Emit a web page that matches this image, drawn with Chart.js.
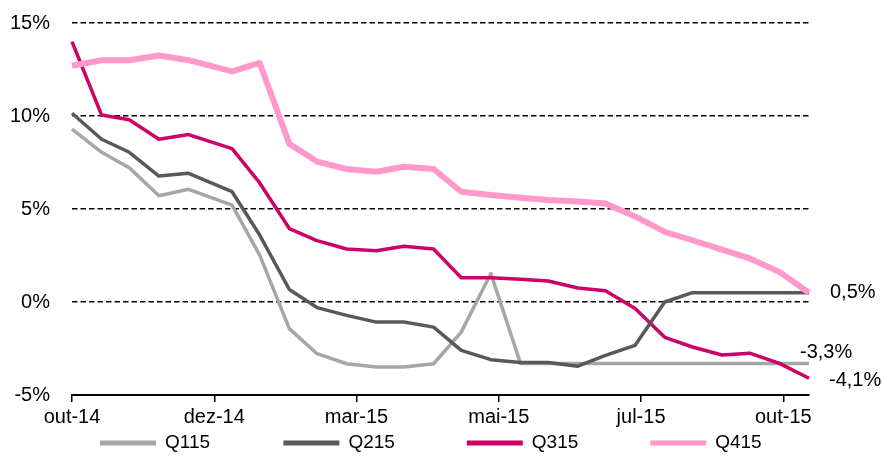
<!DOCTYPE html>
<html><head><meta charset="utf-8">
<script src="https://cdn.jsdelivr.net/npm/chart.js@4.4.0/dist/chart.umd.min.js"></script>
<style>html,body{margin:0;padding:0;background:#fff;}#wrap{width:882px;height:460px;position:relative;}</style>
</head><body><div id="wrap"><canvas id="c" width="882" height="460"></canvas></div>
<script>
// x positions of observations, in days after the first one
const days = [0,15,29,44,59,81,95,110,124,139,154,168,183,197,212,227,241,256,270,285,300,314,329,343,358,373];
const tickDays = [0,72,144,216,288,360];
const tickLabels = ['out-14','dez-14','mar-15','mai-15','jul-15','out-15'];
const seriesNames = ['Q115','Q215','Q315','Q415'];
const q115 = [9.3,8.05,7.22,5.71,6.06,5.21,2.52,-1.43,-2.78,-3.32,-3.5,-3.5,-3.32,-1.62,1.53,-3.3,-3.3,-3.3,-3.3,-3.3,-3.3,-3.3,-3.3,-3.3,-3.3,-3.3];
const q215 = [10.15,8.75,8.05,6.77,6.92,5.93,3.6,0.67,-0.3,-0.72,-1.08,-1.08,-1.35,-2.6,-3.1,-3.25,-3.25,-3.45,-2.87,-2.33,0.0,0.5,0.5,0.5,0.5,0.5];
const q315 = [14.0,10.05,9.8,8.75,9.0,8.25,6.4,3.95,3.3,2.85,2.75,3.0,2.85,1.3,1.3,1.22,1.13,0.75,0.6,-0.35,-1.9,-2.42,-2.85,-2.75,-3.3,-4.1];
const q415 = [12.7,13.0,13.0,13.25,13.0,12.4,12.85,8.5,7.55,7.15,7.0,7.27,7.15,5.93,5.75,5.6,5.48,5.4,5.3,4.6,3.77,3.32,2.82,2.34,1.62,0.5];
const yTicks = [-5,0,5,10,15];

const colors = ['#A6A6A6','#595959','#CC0066','#FF99CC'];
const widths = [3.5,3.5,3.5,6];
const drawOrder = [3,1,2,0];
const values = [q115,q215,q315,q415];

const datasets = values.map((vals,i)=>({
  label: seriesNames[i],
  data: vals.map((v,j)=>({x:days[j], y:v})),
  borderColor: colors[i],
  backgroundColor: colors[i],
  borderWidth: widths[i],
  pointRadius: 0,
  tension: 0,
  borderJoinStyle: 'round',
  clip: false,
  order: drawOrder[i]
}));

const FONT = "'Liberation Sans', Arial, sans-serif";

const endLabels = {
  id: 'endLabels',
  afterDatasetsDraw(chart) {
    const ctx = chart.ctx;
    const cfg = [{i:3, dx:21, dy:0},{i:0, dx:-9, dy:-11},{i:2, dx:20, dy:2}];
    ctx.save();
    ctx.font = "20px " + FONT;
    ctx.fillStyle = '#000';
    ctx.textBaseline = 'middle';
    ctx.textAlign = 'left';
    cfg.forEach(c=>{
      const meta = chart.getDatasetMeta(c.i);
      const pt = meta.data[meta.data.length-1];
      const v = values[c.i][values[c.i].length-1];
      const txt = v.toFixed(1).replace('.', ',') + '%';
      ctx.fillText(txt, pt.x + c.dx, pt.y + c.dy);
    });
    ctx.restore();
  }
};

const customLegend = {
  id: 'customLegend',
  afterDraw(chart) {
    const ctx = chart.ctx;
    ctx.save();
    ctx.font = "19px " + FONT;
    ctx.textBaseline = 'middle';
    ctx.textAlign = 'left';
    const y = 443, x0 = 100, step = 183.4, sw = 56, gap = 9;
    seriesNames.forEach((n,i)=>{
      const x = x0 + i*step;
      ctx.fillStyle = colors[i];
      ctx.fillRect(x, y-2.5, sw, 5);
      ctx.fillStyle = '#000';
      ctx.fillText(n, x + sw + gap, y);
    });
    ctx.restore();
  }
};

new Chart(document.getElementById('c'), {
  type: 'line',
  data: { datasets },
  plugins: [endLabels, customLegend],
  options: {
    responsive: false,
    animation: false,
    devicePixelRatio: 1,
    layout: { padding: { top: 23, right: 73, left: 0, bottom: 0 } },
    plugins: { legend: { display: false }, tooltip: { enabled: false } },
    scales: {
      x: {
        type: 'linear',
        min: 0, max: 373,
        afterBuildTicks: (s)=>{ s.ticks = tickDays.map(v=>({value:v})); },
        afterFit: (s)=>{ s.height = 65; s.paddingLeft = 0; s.paddingRight = 0; },
        ticks: {
          autoSkip: false, maxRotation: 0, padding: 3,
          color: '#000',
          font: { family: FONT, size: 20 },
          callback: (v)=> tickLabels[tickDays.indexOf(v)]
        },
        grid: { drawOnChartArea: false, drawTicks: true, tickLength: 7, color: '#000', lineWidth: 1.5 },
        border: { display: true, color: '#000', width: 2 }
      },
      y: {
        min: -5, max: 15,
        afterBuildTicks: (s)=>{ s.ticks = yTicks.map(v=>({value:v})); },
        afterFit: (s)=>{ s.width = 72; s.paddingTop = 0; s.paddingBottom = 0; },
        ticks: {
          padding: 22, color: '#000',
          font: { family: FONT, size: 20 },
          callback: (v)=> v + '%'
        },
        grid: {
          drawTicks: false, lineWidth: 1.5,
          color: (c)=> (c.tick && c.tick.value === -5) ? 'rgba(0,0,0,0)' : '#000'
        },
        border: { display: false, dash: [5.5,3] }
      }
    }
  }
});
</script></body></html>
